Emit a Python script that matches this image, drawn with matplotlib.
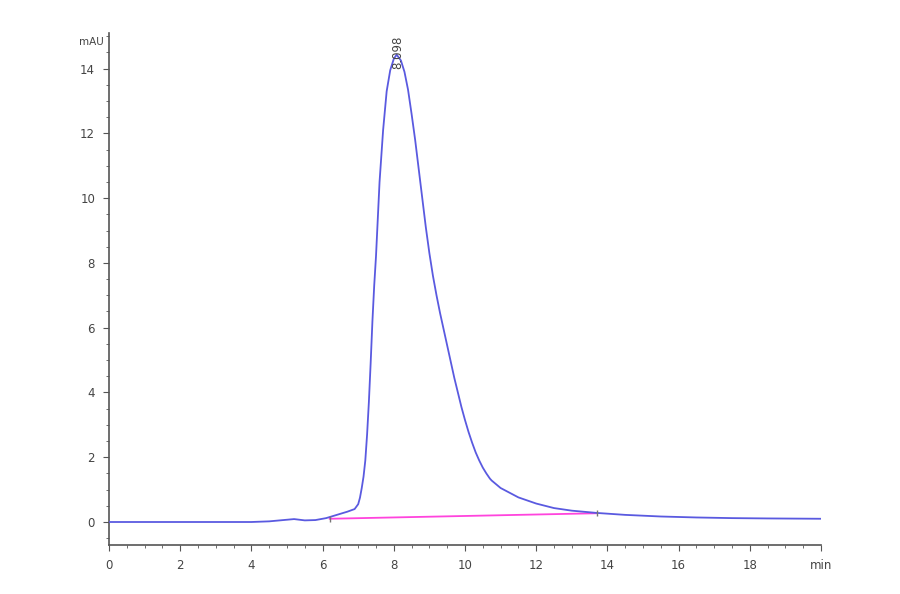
import numpy as np
import matplotlib.pyplot as plt
from matplotlib.ticker import MultipleLocator

# chromatogram (time in min, signal in mAU)
t = [0, 2.0, 4.0, 4.5, 4.8, 5.2, 5.5, 5.8, 6.1, 6.4, 6.7, 6.9, 7.0, 7.05, 7.1,
     7.15, 7.2, 7.25, 7.3, 7.35, 7.4, 7.45, 7.5, 7.6, 7.7, 7.8, 7.9, 8.0,
     8.08, 8.2, 8.3, 8.4, 8.5, 8.6, 8.7, 8.8, 8.9, 9.0, 9.1, 9.2, 9.3, 9.4,
     9.5, 9.6, 9.7, 9.8, 9.9, 10.0, 10.1, 10.2, 10.3, 10.4, 10.5, 10.6, 10.7,
     10.75, 11.0, 11.5, 12.0, 12.5, 13.0, 13.7, 14.5, 15.5, 16.5, 17.5, 18.5,
     20.0]
signal = [0, 0, 0.0, 0.02, 0.05, 0.09, 0.05, 0.06, 0.12, 0.22, 0.32, 0.40,
          0.55, 0.75, 1.05, 1.4, 1.9, 2.7, 3.7, 4.9, 6.2, 7.3, 8.2, 10.5, 12.1,
          13.3, 13.95, 14.3, 14.43, 14.25, 13.9, 13.35, 12.6, 11.8, 10.9, 10.0,
          9.1, 8.3, 7.6, 7.0, 6.45, 5.95, 5.45, 4.95, 4.45, 4.0, 3.55, 3.15,
          2.78, 2.45, 2.15, 1.9, 1.68, 1.5, 1.34, 1.28, 1.05, 0.76, 0.57, 0.43,
          0.35, 0.28, 0.22, 0.17, 0.14, 0.12, 0.11, 0.10]

base_t = [6.2, 13.7]
base_v = [0.10, 0.27]

peak_rt = 8.098
peak_h = 14.43

fig = plt.figure(figsize=(9, 5.94), dpi=100)
ax = fig.add_axes([0.1211, 0.0825, 0.7911, 0.862])

ax.plot(base_t, base_v, color='#ff44dd', lw=1.3, zorder=2)
ax.plot(t, signal, color='#5a5ae0', lw=1.3, zorder=3)
ax.plot(base_t, base_v, ls='none', marker='|', ms=4, color='#777777', zorder=4)
ax.text(peak_rt, peak_h - 0.45, '%.3f' % peak_rt, rotation=90, ha='center',
        va='bottom', fontsize=8.5, color='#444444', zorder=5)

ax.set_xlim(0, 20)
ax.set_ylim(-0.71, 15.1)
ax.xaxis.set_minor_locator(MultipleLocator(0.5))
ax.yaxis.set_minor_locator(MultipleLocator(0.5))
ax.set_xticks(range(0, 21, 2))
ax.set_xticklabels([str(v) for v in range(0, 20, 2)] + ['min'])
ax.set_yticks(range(0, 15, 2))

for side in ['top', 'right']:
    ax.spines[side].set_visible(False)
for side in ['left', 'bottom']:
    ax.spines[side].set_color('#555555')
    ax.spines[side].set_linewidth(1.2)
ax.tick_params(which='major', length=4, color='#555555', labelsize=8.5,
               labelcolor='#444444', pad=6)
ax.tick_params(which='minor', length=2, color='#555555')

fig.text(0.088, 0.93, 'mAU', fontsize=7.5, color='#444444', ha='left', va='center')

fig.savefig('out.png', dpi=100)
